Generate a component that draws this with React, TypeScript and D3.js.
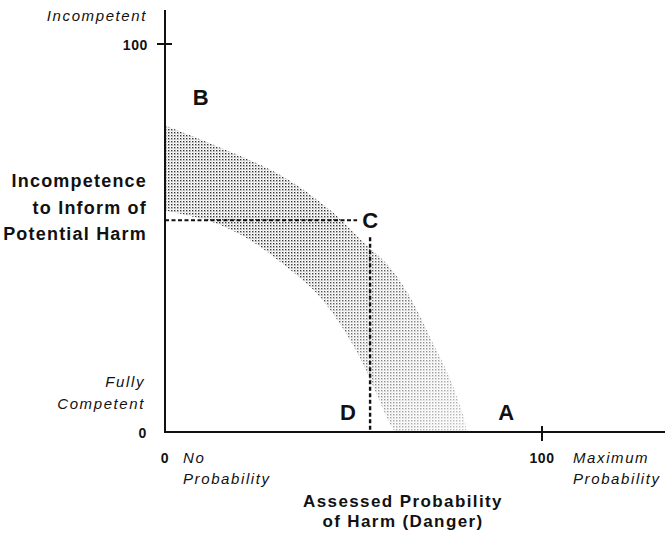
import React from "react";
import * as d3 from "d3";

// ---- data ----
const outerBoundary: [number, number][] = [
  [0, 79], [13, 74], [31, 66], [44, 57], [52, 49.5], [60, 42], [66, 33], [71, 23], [75.5, 14], [79.5, 3], [80, 0],
];
const innerBoundary: [number, number][] = [
  [0, 57], [13, 54], [22.5, 49.5], [31, 43.5], [40, 36], [47, 27], [52, 18.5], [56, 10], [59.5, 2.5], [61, 0],
];
const pointC: [number, number] = [54.4, 54.6];
const xTickValues = [0, 100];
const yTickValues = [0, 100];
const pointLabels = [
  { name: "B", x: 9.5, y: 86 },
  { name: "C", x: 54.4, y: 54.6 },
  { name: "D", x: 48.5, y: 5 },
  { name: "A", x: 90.5, y: 5 },
];
const yTitle = ["Incompetence", "to Inform of", "Potential Harm"];
const xTitle = ["Assessed Probability", "of Harm (Danger)"];

const W = 665;
const H = 538;

export default function App() {
  const x = d3.scaleLinear().domain([0, 100]).range([165, 542]);
  const y = d3.scaleLinear().domain([0, 100]).range([432, 44]);
  const xMax = x.invert(665);
  const yMax = y.invert(10);

  const line = d3
    .line<[number, number]>()
    .x((d) => x(d[0]))
    .y((d) => y(d[1]))
    .curve(d3.curveCatmullRom);

  const outerPath = line(outerBoundary) || "";
  const innerRev = [...innerBoundary].reverse();
  const innerPath = line(innerRev) || "";
  const bandPath = outerPath + "L" + innerPath.slice(1) + "Z";

  const font = "'Liberation Sans', Arial, Helvetica, sans-serif";
  const italic = { fontFamily: font, fontStyle: "italic", fontSize: 15, letterSpacing: 1.6 } as const;
  const boldY = { fontFamily: font, fontWeight: "bold", fontSize: 18, letterSpacing: 1.2 } as const;
  const boldX = { fontFamily: font, fontWeight: "bold", fontSize: 17, letterSpacing: 1.4 } as const;
  const tickFont = { fontFamily: font, fontWeight: "bold", fontSize: 14, letterSpacing: 0.6 } as const;

  return (
    <svg width={W} height={H} style={{ position: "absolute", left: 0, top: 0, background: "#fff" }}>
      <defs>
        <pattern id="stipple" width={3} height={3} patternUnits="userSpaceOnUse">
          <rect x={0} y={0} width={1.4} height={1.4} fill="#333" />
          <rect x={1.5} y={1.5} width={0.9} height={0.9} fill="#888" />
        </pattern>
        <linearGradient id="fade" gradientUnits="userSpaceOnUse" x1={300} y1={250} x2={470} y2={430}>
          <stop offset="0" stopColor="#fff" stopOpacity={1} />
          <stop offset="1" stopColor="#fff" stopOpacity={0.3} />
        </linearGradient>
        <mask id="fadeMask" maskUnits="userSpaceOnUse" x={0} y={0} width={W} height={H}>
          <rect x={0} y={0} width={W} height={H} fill="url(#fade)" />
        </mask>
      </defs>

      {/* shaded band */}
      <path d={bandPath} fill="url(#stipple)" mask="url(#fadeMask)" />

      {/* axes */}
      <line x1={x(0)} y1={y(0)} x2={x(xMax)} y2={y(0)} stroke="#111" strokeWidth={2} />
      <line x1={x(0)} y1={y(0) + 1} x2={x(0)} y2={y(yMax)} stroke="#111" strokeWidth={2} />
      {/* ticks at 100 */}
      <line x1={x(100)} y1={y(0) - 6} x2={x(100)} y2={y(0) + 9} stroke="#111" strokeWidth={2} />
      <line x1={x(0) - 8} y1={y(100)} x2={x(0) + 7} y2={y(100)} stroke="#111" strokeWidth={2} />

      {/* dashed guides to C */}
      <line
        x1={x(0)}
        y1={y(pointC[1])}
        x2={x(pointC[0]) - 13}
        y2={y(pointC[1])}
        stroke="#111"
        strokeWidth={2}
        strokeDasharray="4 2.5"
      />
      <line
        x1={x(pointC[0])}
        y1={y(pointC[1]) + 17}
        x2={x(pointC[0])}
        y2={y(0)}
        stroke="#111"
        strokeWidth={2.4}
        strokeDasharray="4 2.5"
      />

      {/* point labels */}
      {pointLabels.map((p) => (
        <text
          key={p.name}
          x={x(p.x)}
          y={y(p.y)}
          dy={p.name === "C" ? 8 : 7}
          style={{ fontFamily: font, fontWeight: "bold", fontSize: 22 }}
          textAnchor="middle"
          fill="#111"
        >
          {p.name}
        </text>
      ))}

      {/* y-axis labels */}
      <text x={147} y={21} textAnchor="end" style={italic} fill="#111">Incompetent</text>
      <text x={148} y={y(yTickValues[1]) + 6} textAnchor="end" style={tickFont} fill="#111">{yTickValues[1]}</text>
      {yTitle.map((t, i) => (
        <text key={t} x={147} y={187 + i * 26.5} textAnchor="end" style={boldY} fill="#111">{t}</text>
      ))}
      <text x={145} y={387} textAnchor="end" style={italic} fill="#111">Fully</text>
      <text x={145} y={409} textAnchor="end" style={italic} fill="#111">Competent</text>
      <text x={147} y={y(yTickValues[0]) + 6} textAnchor="end" style={tickFont} fill="#111">{yTickValues[0]}</text>

      {/* x-axis labels */}
      <text x={x(xTickValues[0])} y={463} textAnchor="middle" style={tickFont} fill="#111">{xTickValues[0]}</text>
      <text x={183} y={463} style={italic} fill="#111">No</text>
      <text x={183} y={484} style={italic} fill="#111">Probability</text>
      <text x={x(xTickValues[1])} y={463} textAnchor="middle" style={tickFont} fill="#111">{xTickValues[1]}</text>
      <text x={573} y={463} style={italic} fill="#111">Maximum</text>
      <text x={573} y={484} style={italic} fill="#111">Probability</text>
      {xTitle.map((t, i) => (
        <text key={t} x={403} y={507 + i * 20} textAnchor="middle" style={boldX} fill="#111">{t}</text>
      ))}
    </svg>
  );
}
